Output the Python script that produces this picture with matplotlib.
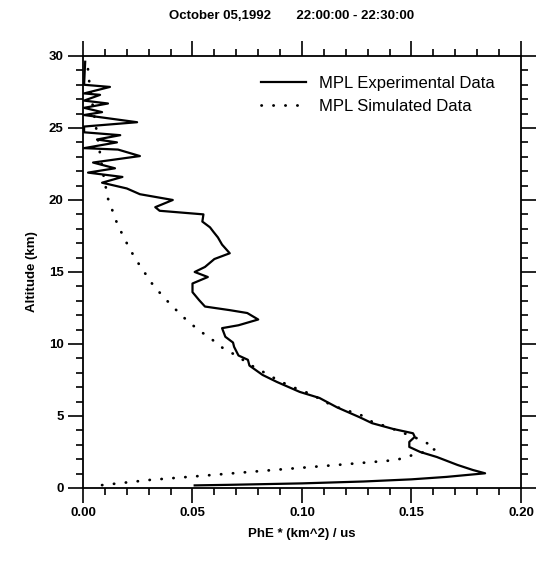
import numpy as np
import matplotlib
matplotlib.use("Agg")
import matplotlib.pyplot as plt
from matplotlib.ticker import MultipleLocator

plt.rcParams["font.family"] = ["Liberation Sans", "DejaVu Sans"]

# Experimental profile (value, altitude km)
exp_val = [0.051, 0.067, 0.100, 0.128, 0.150, 0.166, 0.1836, 0.178, 0.171, 0.1616,
           0.154, 0.149, 0.149, 0.1515, 0.1507, 0.1416, 0.132, 0.1265, 0.116, 0.108,
           0.099, 0.0886, 0.082, 0.076, 0.0753, 0.071, 0.069, 0.0685, 0.065, 0.0635,
           0.071, 0.080, 0.075, 0.067, 0.0557, 0.053, 0.050, 0.050, 0.057, 0.051,
           0.0557, 0.060, 0.067, 0.0635, 0.0616, 0.0595, 0.058, 0.0545, 0.055, 0.035,
           0.033, 0.041, 0.026, 0.020, 0.0087, 0.018, 0.0023, 0.0146, 0.0046, 0.026,
           0.016, 0.0005, 0.0155, 0.0064, 0.017, 0.0005, 0.0005, 0.0247, 0.0005, 0.0087,
           0.0005, 0.0114, 0.0005, 0.0078, 0.0005, 0.0123, 0.0005, 0.0008, 0.0010]
exp_alt = [0.18, 0.22, 0.32, 0.45, 0.60, 0.77, 1.02, 1.25, 1.6, 2.15,
           2.5, 2.85, 3.2, 3.55, 3.8, 4.1, 4.5, 4.9, 5.6, 6.25,
           6.67, 7.36, 7.85, 8.5, 8.9, 9.2, 9.8, 10.1, 10.5, 11.1,
           11.3, 11.7, 12.15, 12.35, 12.6, 13.05, 13.6, 14.2, 14.65, 15.0,
           15.35, 15.9, 16.3, 16.9, 17.4, 17.8, 18.1, 18.5, 19.0, 19.25,
           19.5, 20.0, 20.4, 20.8, 21.2, 21.6, 21.9, 22.2, 22.6, 23.05,
           23.5, 23.6, 24.0, 24.2, 24.5, 24.7, 25.1, 25.4, 25.9, 26.1,
           26.4, 26.7, 26.9, 27.3, 27.4, 27.85, 28.0, 29.0, 29.6]

# Simulated profile (value, altitude km)
sim_val = [0.0087, 0.0306, 0.053, 0.087, 0.116, 0.143, 0.149, 0.161, 0.160, 0.155,
           0.150, 0.1434, 0.138, 0.132, 0.1265, 0.118, 0.110, 0.1046, 0.099, 0.090,
           0.083, 0.077, 0.070, 0.064, 0.059, 0.0525, 0.047, 0.0416, 0.0365, 0.0315,
           0.0275, 0.024, 0.021, 0.018, 0.0155, 0.0136, 0.0114, 0.009, 0.007, 0.005,
           0.003, 0.002]
sim_alt = [0.2, 0.56, 0.83, 1.25, 1.6, 1.94, 2.22, 2.7, 2.85, 3.3,
           3.6, 4.0, 4.3, 4.6, 5.1, 5.5, 6.0, 6.5, 6.8, 7.4,
           8.0, 8.5, 9.2, 9.7, 10.3, 11.0, 11.7, 12.5, 13.3, 14.2,
           15.1, 15.9, 16.7, 17.6, 18.4, 19.2, 20.1, 22.0, 24.0, 26.0,
           28.0, 29.5]

fig = plt.figure(figsize=(5.4, 5.62), dpi=100)
ax = fig.add_axes([0.1537, 0.1317, 0.8111, 0.7687])

ax.plot(exp_val, exp_alt, color="black", lw=1.6, label="MPL Experimental Data")
ax.plot(sim_val, sim_alt, color="black", lw=2.0, linestyle=(0, (0.1, 4.2)),
        dash_capstyle="round", label="MPL Simulated Data")

ax.set_xlim(0, 0.20)
ax.set_ylim(0, 30)
ax.xaxis.set_major_locator(MultipleLocator(0.05))
ax.xaxis.set_minor_locator(MultipleLocator(0.01))
ax.yaxis.set_major_locator(MultipleLocator(5))
ax.yaxis.set_minor_locator(MultipleLocator(1))
ax.set_xticklabels([f"{v:.2f}" for v in ax.get_xticks()])

ax.tick_params(which="both", direction="out", top=True, right=True,
               labeltop=False, labelright=False, width=1.2)
ax.tick_params(which="major", length=11, labelsize=9.5, pad=3)
ax.tick_params(which="minor", length=5)
for lab in ax.get_xticklabels() + ax.get_yticklabels():
    lab.set_fontweight("bold")
for s in ax.spines.values():
    s.set_linewidth(1.3)

ax.set_xlabel("PhE * (km^2) / us", fontsize=9.5, fontweight="bold", labelpad=6)
ax.set_ylabel("Altitude (km)", fontsize=9.5, fontweight="bold", labelpad=8)

fig.text(0.54, 0.972, "October 05,1992       22:00:00 - 22:30:00",
         ha="center", va="center", fontsize=9.5, fontweight="bold")

ax.legend(loc="upper right", frameon=False, fontsize=12, handlelength=2.7,
          handletextpad=0.8, labelspacing=0.5, borderpad=0.4, borderaxespad=0,
          bbox_to_anchor=(0.955, 0.97))

fig.savefig("out.png", dpi=100)
